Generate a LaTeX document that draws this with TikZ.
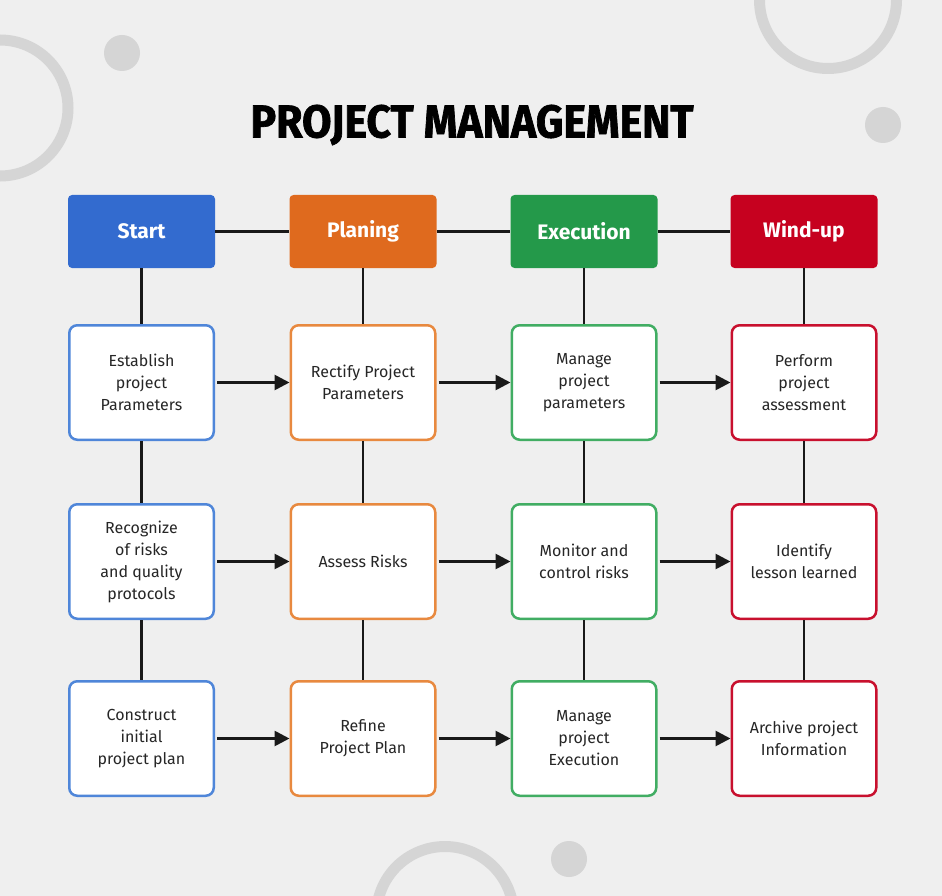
\documentclass[tikz,border=0pt]{standalone}
\usepackage{fontspec}
\setmainfont{Fira Sans}
\newfontfamily\titlefont[FakeStretch=0.93,FakeBold=1.5]{Fira Sans}
\usetikzlibrary{arrows.meta,positioning}
\definecolor{bgc}{HTML}{EFEFEF}
\definecolor{deco}{HTML}{D5D5D5}
\definecolor{cblue}{HTML}{336BCF}
\definecolor{corange}{HTML}{DF6A1E}
\definecolor{cgreen}{HTML}{24994A}
\definecolor{cred}{HTML}{C6011F}
\definecolor{lblue}{HTML}{4F86D9}
\definecolor{lorange}{HTML}{E8893F}
\definecolor{lgreen}{HTML}{41AD63}
\definecolor{lred}{HTML}{C8102E}

\begin{document}
\begin{tikzpicture}[x=1pt,y=-1pt,>={Triangle[length=15pt,width=15pt]},
  head/.style={rectangle,rounded corners=4pt,minimum width=147pt,minimum height=73pt,text=white,font=\fontsize{21}{24}\selectfont\bfseries},
  task/.style={rectangle,rounded corners=8pt,draw,line width=2.5pt,fill=white,minimum width=144.5pt,minimum height=114.5pt,align=center,text=black!85,font=\fontsize{16}{22}\selectfont},
  link/.style={line width=2.7pt,black!90}]
  \useasboundingbox (0,0) rectangle (942,896);
  \clip (0,0) rectangle (942,896);
  \fill[bgc] (0,0) rectangle (942,896);
  % background decoration
  \draw[deco,line width=11pt] (0,108) circle[radius=68pt];
  \draw[deco,line width=11pt] (828,0) circle[radius=68.5pt];
  \draw[deco,line width=11pt] (445,915) circle[radius=68.5pt];
  \foreach \p in {(122,53),(883,125),(569,859)} \fill[deco] \p circle[radius=18pt];
  \node[font=\titlefont\fontsize{46}{50}\selectfont\bfseries] (title) at (472,125) {PROJECT MANAGEMENT};
  % phase headers
  \foreach \c/\x/\name/\fc in {1/141.5/Start/cblue,2/363/Planing/corange,3/584/Execution/cgreen,4/804/Wind-up/cred}
    \node[head,fill=\fc] (hd\c) at (\x,231.5) {\name};
  % tasks
  \node[task,draw=lblue] (t11) at (141.5,382.5) {Establish\\project\\Parameters};
  \node[task,draw=lblue] (t21) at (141.5,561.5) {Recognize\\of risks\\and quality\\protocols};
  \node[task,draw=lblue] (t31) at (141.5,738.5) {Construct\\initial\\project plan};
  \node[task,draw=lorange] (t12) at (363,382.5) {Rectify Project\\Parameters};
  \node[task,draw=lorange] (t22) at (363,561.5) {Assess Risks};
  \node[task,draw=lorange] (t32) at (363,738.5) {Refine\\Project Plan};
  \node[task,draw=lgreen] (t13) at (584,382.5) {Manage\\project\\parameters};
  \node[task,draw=lgreen] (t23) at (584,561.5) {Monitor and\\control risks};
  \node[task,draw=lgreen] (t33) at (584,738.5) {Manage\\project\\Execution};
  \node[task,draw=lred] (t14) at (804,382.5) {Perform\\project\\assessment};
  \node[task,draw=lred] (t24) at (804,561.5) {Identify\\lesson learned};
  \node[task,draw=lred] (t34) at (804,738.5) {Archive project\\Information};
  % connectors
  \foreach \c in {1,...,4} {\draw[link] (hd\c) -- (t1\c); \draw[link] (t1\c) -- (t2\c); \draw[link] (t2\c) -- (t3\c);}
  \foreach \c [evaluate=\c as \n using int(\c+1)] in {1,2,3} {
    \draw[link] (hd\c) -- (hd\n);
    \foreach \r in {1,2,3} \draw[link,->,shorten <=2pt] (t\r\c) -- (t\r\n);
  }
\end{tikzpicture}
\end{document}
